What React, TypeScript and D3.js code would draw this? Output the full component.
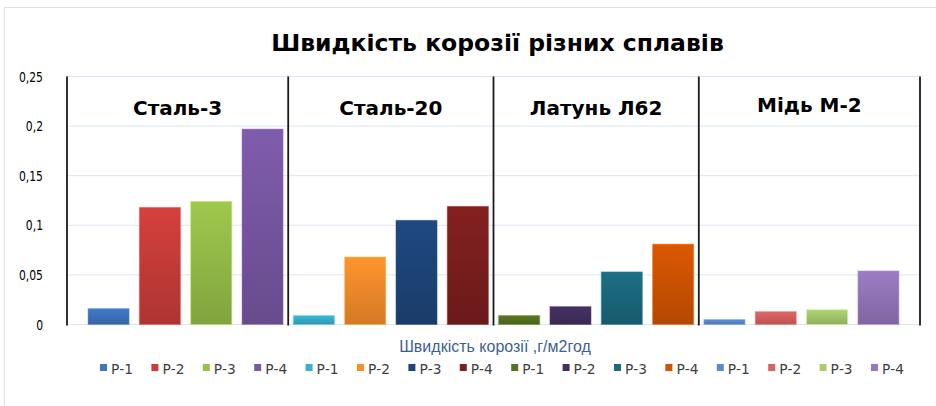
import React from "react";
import * as d3 from "d3";

const title = "Швидкість корозії різних сплавів";
const groups = ["Сталь-3", "Сталь-20", "Латунь Л62", "Мідь М-2"];
const seriesNames = ["Р-1", "Р-2", "Р-3", "Р-4"];
const steel3 = [0.016, 0.118, 0.124, 0.197];
const steel20 = [0.009, 0.068, 0.105, 0.119];
const brass = [0.009, 0.018, 0.053, 0.081];
const copper = [0.005, 0.013, 0.015, 0.054];
const colors = [
  "#3f75c0", "#cc3d3a", "#98c04a", "#7a58a6",
  "#3ab0cf", "#f98e2c", "#1e467c", "#7e1f1f",
  "#557420", "#43305f", "#1b6a80", "#d35402",
  "#5a8ad0", "#d86361", "#a9cc6f", "#9577bd",
];
const yTicks = [0, 0.05, 0.1, 0.15, 0.2, 0.25];
const axisTitle = "Швидкість корозії ,г/м2год";

const values = [...steel3, ...steel20, ...brass, ...copper];
const labels = groups.flatMap(() => seriesNames);

const sans = "'Liberation Sans', sans-serif";

export default function App() {
  const W = 936, H = 406;
  const left = 67, right = 920, top = 76.5, bottom = 324.5;
  const idx = d3.range(values.length);
  const x = d3.scaleBand<number>().domain(idx).range([left, right]).paddingInner(0.2).paddingOuter(0.41);
  const y = d3.scaleLinear().domain([0, 0.25]).range([bottom, top]);
  const bw = x.bandwidth();
  const fmt = (v: number) => String(+v.toFixed(2)).replace(".", ",");

  const seps: number[] = [left];
  for (let g = 1; g < groups.length; g++) {
    const a = (x(g * 4 - 1) as number) + bw;
    const b = x(g * 4) as number;
    seps.push((a + b) / 2);
  }
  seps.push(right);

  const legX = d3.scalePoint<number>().domain(idx).range([100, 871]);

  return (
    <svg width={W} height={H} style={{ position: "absolute", left: 0, top: 0, background: "#fff" }}>
      <defs>
        {colors.map((c, i) => {
          const cc = d3.color(c)!;
          return (
            <linearGradient key={i} id={`g${i}`} x1="0" y1="0" x2="0" y2="1">
              <stop offset="0%" stopColor={cc.brighter(0.12).formatHex()} />
              <stop offset="100%" stopColor={cc.darker(0.45).formatHex()} />
            </linearGradient>
          );
        })}
      </defs>
      <rect x={4.5} y={7.5} width={W} height={H} fill="none" stroke="#d9e2ef" strokeWidth={1} />
      <text x={497.5} y={51} textAnchor="middle" fontFamily="DejaVu Sans" fontWeight="bold" fontSize={23.5} fill="#000">
        {title}
      </text>
      {yTicks.map((t) => (
        <g key={t}>
          <line x1={left} x2={right} y1={y(t)} y2={y(t)} stroke="#dbe5f1" strokeWidth={1} />
          <g transform={`translate(43,${y(t) + 5}) scale(0.8,1)`}>
            <text x={0} y={0} textAnchor="end" fontFamily="DejaVu Sans" fontSize={13.5} fill="#000">
              {fmt(t)}
            </text>
          </g>
        </g>
      ))}
      {values.map((v, i) => (
        <rect
          key={i}
          x={x(i)}
          y={y(v)}
          width={bw}
          height={bottom - y(v)}
          fill={`url(#g${i})`}
          stroke={d3.color(colors[i])!.brighter(0.6).formatHex()}
          strokeOpacity={0.5}
          strokeWidth={1}
        />
      ))}
      {seps.map((s, i) => (
        <line key={i} x1={s} x2={s} y1={top} y2={bottom + 1} stroke="#1a1a1a" strokeWidth={1.8} />
      ))}
      {groups.map((g, i) => (
        <text
          key={g}
          x={(seps[i] + seps[i + 1]) / 2}
          y={i === 3 ? 112 : 115}
          textAnchor="middle"
          fontFamily="DejaVu Sans"
          fontWeight="bold"
          fontSize={20}
          fill="#000"
        >
          {g}
        </text>
      ))}
      <text x={495} y={352} textAnchor="middle" fontFamily={sans} fontSize={16} fill="#3e5f8f">
        {axisTitle}
      </text>
      {labels.map((l, i) => (
        <g key={i}>
          <rect x={legX(i)} y={364} width={7} height={7} fill={colors[i]} />
          <g transform={`translate(${(legX(i) as number) + 11},373.5) scale(0.95,1)`}>
            <text x={0} y={0} fontFamily="DejaVu Sans" fontSize={14.5} fill="#404040">
              {l}
            </text>
          </g>
        </g>
      ))}
    </svg>
  );
}
